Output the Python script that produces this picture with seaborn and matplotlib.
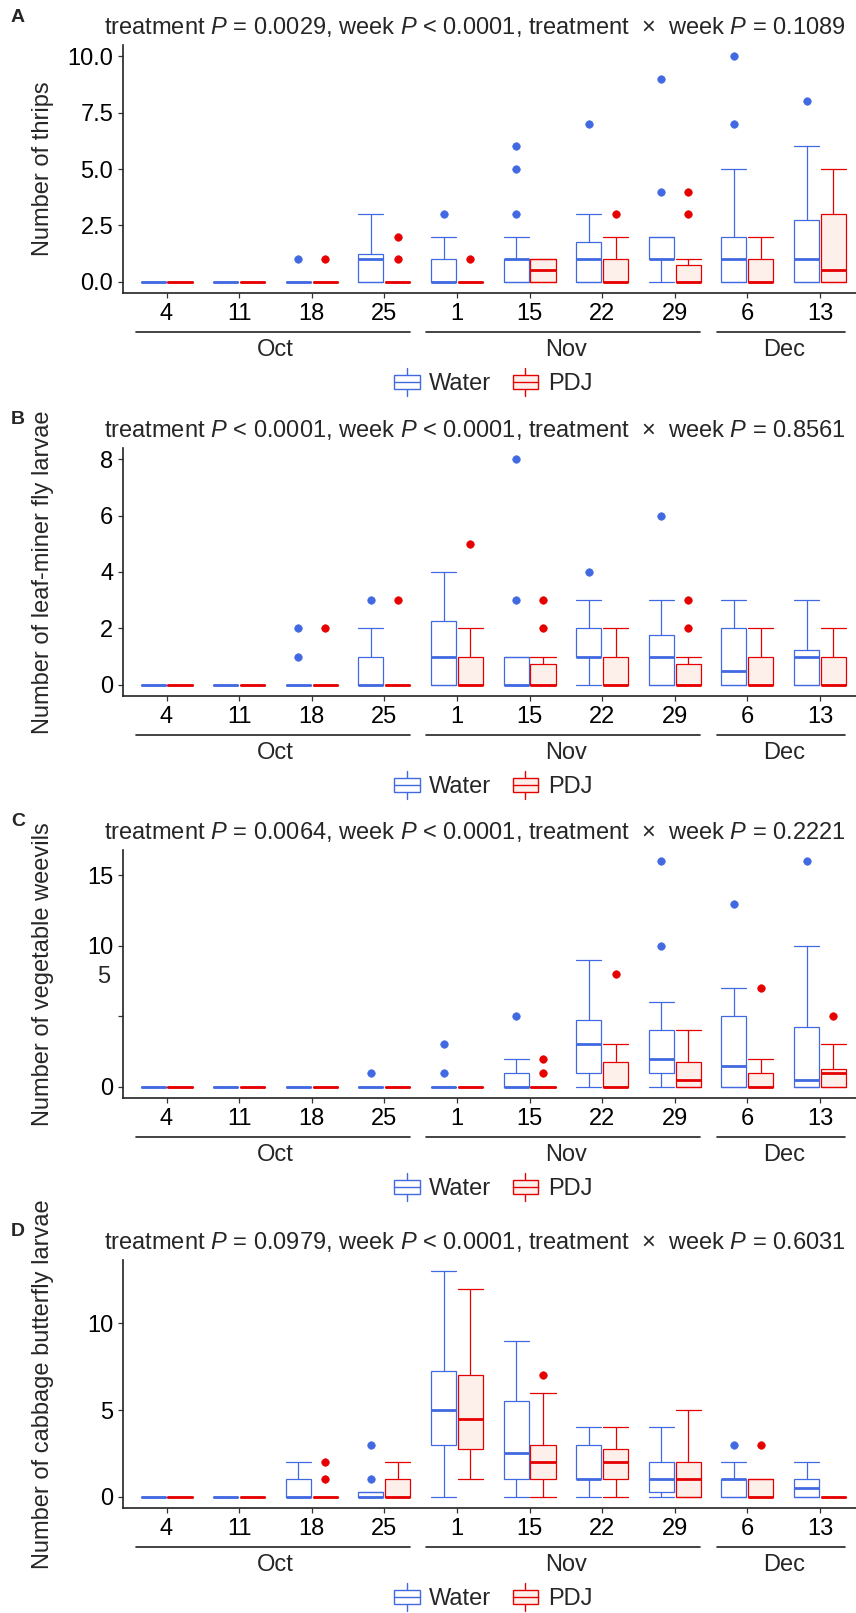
import matplotlib
matplotlib.use("Agg")
import matplotlib.pyplot as plt
import matplotlib.transforms as mtrans
import seaborn as sns
from matplotlib.legend_handler import HandlerBase
from matplotlib.patches import Rectangle
from matplotlib.lines import Line2D

# ---- data -----------------------------------------------------------------
weeks = ["4", "11", "18", "25", "1", "15", "22", "29", "6", "13"]
months = ["Oct", "Nov", "Dec"]
month_first = [0, 4, 8]
month_last = [3, 7, 9]
treatments = ["Water", "PDJ"]

# box stats per week: (whisker low, q1, median, q3, whisker high)
Z = (0, 0, 0, 0, 0)

thrips_water = [Z, Z, Z, (0, 0, 1, 1.25, 3), (0, 0, 0, 1, 2), (0, 0, 1, 1, 2),
                (0, 0, 1, 1.75, 3), (0, 1, 1, 2, 2), (0, 0, 1, 2, 5), (0, 0, 1, 2.75, 6)]
thrips_water_out = [[], [], [1], [], [3], [3, 5, 6], [7], [4, 9], [7, 10], [8]]
thrips_pdj = [Z, Z, Z, Z, Z, (0, 0, 0.5, 1, 1), (0, 0, 0, 1, 2),
              (0, 0, 0, 0.75, 1), (0, 0, 0, 1, 2), (0, 0, 0.5, 3, 5)]
thrips_pdj_out = [[], [], [1], [1, 2], [1], [], [3], [3, 4], [], []]

leafminer_water = [Z, Z, Z, (0, 0, 0, 1, 2), (0, 0, 1, 2.25, 4), (0, 0, 0, 1, 1),
                   (0, 1, 1, 2, 3), (0, 0, 1, 1.75, 3), (0, 0, 0.5, 2, 3), (0, 0, 1, 1.25, 3)]
leafminer_water_out = [[], [], [1, 2], [3], [], [3, 8], [4], [6], [], []]
leafminer_pdj = [Z, Z, Z, Z, (0, 0, 0, 1, 2), (0, 0, 0, 0.75, 1), (0, 0, 0, 1, 2),
                 (0, 0, 0, 0.75, 1), (0, 0, 0, 1, 2), (0, 0, 0, 1, 2)]
leafminer_pdj_out = [[], [], [2], [3], [5], [2, 3], [], [2, 3], [], []]

weevil_water = [Z, Z, Z, Z, Z, (0, 0, 0, 1, 2), (0, 1, 3, 4.75, 9),
                (0, 1, 2, 4, 6), (0, 0, 1.5, 5, 7), (0, 0, 0.5, 4.25, 10)]
weevil_water_out = [[], [], [], [1], [1, 3], [5], [], [10, 16], [13], [16]]
weevil_pdj = [Z, Z, Z, Z, Z, Z, (0, 0, 0, 1.75, 3), (0, 0, 0.5, 1.75, 4),
              (0, 0, 0, 1, 2), (0, 0, 1, 1.25, 3)]
weevil_pdj_out = [[], [], [], [], [], [1, 2], [8], [], [7], [5]]

butterfly_water = [Z, Z, (0, 0, 0, 1, 2), (0, 0, 0, 0.25, 0.25), (0, 3, 5, 7.25, 13),
                   (0, 1, 2.5, 5.5, 9), (0, 1, 1, 3, 4), (0, 0.25, 1, 2, 4),
                   (0, 0, 1, 1, 2), (0, 0, 0.5, 1, 2)]
butterfly_water_out = [[], [], [], [1, 3], [], [], [], [], [3], []]
butterfly_pdj = [Z, Z, Z, (0, 0, 0, 1, 2), (1, 2.75, 4.5, 7, 12), (0, 1, 2, 3, 6),
                 (0, 1, 2, 2.75, 4), (0, 0, 1, 2, 5), (0, 0, 0, 1, 1), Z]
butterfly_pdj_out = [[], [], [1, 2], [], [], [7], [], [], [3], []]

panel_letters = ["A", "B", "C", "D"]
ylabels = ["Number of thrips", "Number of leaf-miner fly larvae",
           "Number of vegetable weevils", "Number of cabbage butterfly larvae"]
p_treatment = ["= 0.0029", "< 0.0001", "= 0.0064", "= 0.0979"]
p_week = ["< 0.0001", "< 0.0001", "< 0.0001", "< 0.0001"]
p_inter = ["= 0.1089", "= 0.8561", "= 0.2221", "= 0.6031"]

panel_data = [
    (thrips_water, thrips_water_out, thrips_pdj, thrips_pdj_out),
    (leafminer_water, leafminer_water_out, leafminer_pdj, leafminer_pdj_out),
    (weevil_water, weevil_water_out, weevil_pdj, weevil_pdj_out),
    (butterfly_water, butterfly_water_out, butterfly_pdj, butterfly_pdj_out),
]
ylims = [(-0.5, 10.5), (-0.4, 8.4), (-0.8, 16.8), (-0.65, 13.65)]
yticks = [[0, 2.5, 5, 7.5, 10], [0, 2, 4, 6, 8], [0, 5, 10, 15], [0, 5, 10]]
yticklabels = [["0.0", "2.5", "5.0", "7.5", "10.0"], ["0", "2", "4", "6", "8"],
               ["0", "", "10", "15"], ["0", "5", "10"]]

# ---- style ----------------------------------------------------------------
sns.set_style("ticks")
plt.rcParams["font.family"] = ["Liberation Sans", "DejaVu Sans"]
plt.rcParams["mathtext.fontset"] = "custom"
plt.rcParams["mathtext.it"] = "Liberation Sans:italic"
plt.rcParams["mathtext.rm"] = "Liberation Sans"

BLUE = "#4169E1"
RED = "#E60000"
FILLS = ["white", "#FDF0EA"]
COLS = [BLUE, RED]
FS = 17

W, H = 856, 1613
fig = plt.figure(figsize=(W / 100, H / 100), dpi=100)

left_px, width_px, height_px = 123, 740.5, 248
tops = [45, 448, 850, 1260]


def to_stats(boxes, outs):
    return [dict(whislo=b[0], q1=b[1], med=b[2], q3=b[3], whishi=b[4], fliers=o)
            for b, o in zip(boxes, outs)]


class BoxKey(HandlerBase):
    def create_artists(self, legend, orig_handle, xdescent, ydescent,
                       width, height, fontsize, trans):
        ec = orig_handle.get_edgecolor()
        fc = orig_handle.get_facecolor()
        x0, y0 = -xdescent, -ydescent
        xc = x0 + width / 2
        box = Rectangle((x0, y0 + 0.22 * height), width, 0.56 * height,
                        facecolor=fc, edgecolor=ec, lw=1.0, transform=trans)
        wl = Line2D([xc, xc], [y0 - 0.05 * height, y0 + 0.22 * height], color=ec, lw=1.0, transform=trans)
        wh = Line2D([xc, xc], [y0 + 0.78 * height, y0 + 1.05 * height], color=ec, lw=1.0, transform=trans)
        md = Line2D([x0, x0 + width], [y0 + 0.5 * height] * 2, color=ec, lw=1.0, transform=trans)
        return [wl, wh, box, md]


for i in range(4):
    top = tops[i]
    ax = fig.add_axes([left_px / W, 1 - (top + height_px) / H, width_px / W, height_px / H])
    water, water_out, pdj, pdj_out = panel_data[i]

    for k, (boxes, outs) in enumerate([(water, water_out), (pdj, pdj_out)]):
        pos = [j + (-0.185 if k == 0 else 0.185) for j in range(len(weeks))]
        col = COLS[k]
        ax.bxp(to_stats(boxes, outs), positions=pos, widths=0.345, capwidths=0.345,
               patch_artist=True, manage_ticks=False, showfliers=True,
               boxprops=dict(facecolor=FILLS[k], edgecolor=col, linewidth=0.9),
               medianprops=dict(color=col, linewidth=2.0, solid_capstyle="butt"),
               whiskerprops=dict(color=col, linewidth=0.9),
               capprops=dict(color=col, linewidth=0.9),
               flierprops=dict(marker="o", markerfacecolor=col, markeredgecolor=col,
                               markersize=5.4, markeredgewidth=0.5))

    ax.set_xlim(-0.6, 9.6)
    ax.set_ylim(*ylims[i])
    ax.set_xticks(range(len(weeks)), weeks)
    ax.set_yticks(yticks[i], yticklabels[i])
    sns.despine(ax=ax)
    for s in ["left", "bottom"]:
        ax.spines[s].set_color("#222222")
        ax.spines[s].set_linewidth(1.2)
    ax.tick_params(axis="both", labelsize=FS, length=3.5, width=0.9, color="#333333",
                   labelcolor="black", pad=3.5)
    ax.tick_params(axis="x", pad=4)

    if i == 2:
        # stray "5" label sitting above its tick, as in the original figure
        ax.text(-0.017, 7.8, "5", transform=ax.get_yaxis_transform(),
                ha="right", va="center", fontsize=FS)

    # month grouping below the week labels
    trans = mtrans.blended_transform_factory(ax.transData, ax.transAxes)
    for m, a, b in zip(months, month_first, month_last):
        ax.plot([a - 0.42, min(b + 0.35, 9.6)], [-39 / height_px] * 2, transform=trans,
                color="#222222", lw=1.2, clip_on=False)
        ax.text((a + b) / 2, -57 / height_px, m, transform=trans, ha="center",
                va="center", fontsize=FS)

    title = (r"treatment $\mathit{P}$ " + p_treatment[i] + r", week $\mathit{P}$ " + p_week[i]
             + r", treatment  ×  week $\mathit{P}$ " + p_inter[i])
    fig.text(475 / W, 1 - (top - 18) / H, title, ha="center", va="center", fontsize=FS)
    fig.text(18 / W, 1 - (top - 28) / H, panel_letters[i], ha="center", va="center",
             fontsize=14, fontweight="bold")
    fig.text(43 / W, 1 - (top + height_px / 2) / H, ylabels[i], rotation=90,
             ha="center", va="center", fontsize=FS)

    handles = [Rectangle((0, 0), 1, 1, facecolor=FILLS[k], edgecolor=COLS[k]) for k in range(2)]
    fig.legend(handles, treatments, handler_map={Rectangle: BoxKey()}, ncol=2, frameon=False,
               loc="center", bbox_to_anchor=(493 / W, 1 - (top + height_px + 89) / H),
               fontsize=FS, handlelength=1.1, handleheight=1.3, columnspacing=0.9,
               handletextpad=0.4)

fig.savefig("out.png", dpi=100)
